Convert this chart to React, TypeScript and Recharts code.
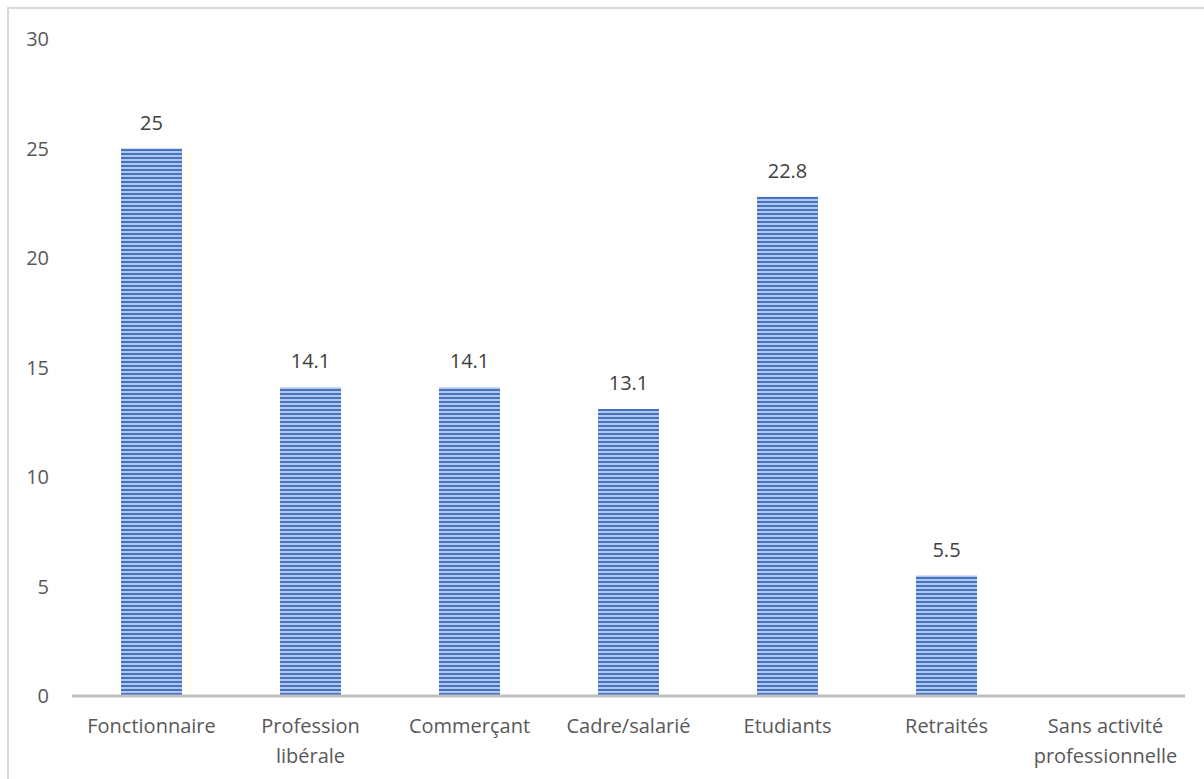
import { BarChart, Bar, XAxis, YAxis, LabelList } from "recharts";

const categories = [
  "Fonctionnaire",
  "Profession libérale",
  "Commerçant",
  "Cadre/salarié",
  "Etudiants",
  "Retraités",
  "Sans activité professionnelle",
];
const values: (number | null)[] = [25, 14.1, 14.1, 13.1, 22.8, 5.5, null];
const yTicks = [0, 5, 10, 15, 20, 25, 30];

// the two long labels wrap onto two lines like in the original
const wrapped: Record<string, string[]> = {
  "Profession libérale": ["Profession", "libérale"],
  "Sans activité professionnelle": ["Sans activité", "professionnelle"],
};

const data = categories.map((name, i) => ({ name, value: values[i] }));

const FONT = "'Open Sans', Lato, sans-serif";

function CategoryTick(props: any) {
  const { x, y, payload } = props;
  const lines = wrapped[payload.value] ?? [payload.value];
  return (
    <text x={x} y={y} textAnchor="middle" fill="#595959" fontSize={20} fontFamily={FONT}>
      {lines.map((l, i) => (
        <tspan key={i} x={x} dy={i === 0 ? 29 : 30}>
          {l}
        </tspan>
      ))}
    </text>
  );
}

export default function App() {
  return (
    <div
      style={{
        position: "absolute",
        left: 7,
        top: 7,
        width: 1197,
        height: 772,
        borderTop: "2px solid #d9d9d9",
        borderLeft: "2px solid #d9d9d9",
        overflow: "hidden",
        background: "#fff",
      }}
    >
      <BarChart
        width={1197}
        height={772}
        data={data}
        margin={{ top: 30, right: 21, bottom: 0, left: 0 }}
      >
        <defs>
          <pattern id="stripes" width="8" height="4" patternUnits="userSpaceOnUse">
            <rect width="8" height="4" fill="#b4c7e7" />
            <rect width="8" height="2" fill="#4472c4" />
          </pattern>
        </defs>
        <XAxis
          dataKey="name"
          interval={0}
          tickLine={false}
          axisLine={{ stroke: "#bfbfbf", strokeWidth: 3 }}
          tick={<CategoryTick />}
          height={85}
        />
        <YAxis
          domain={[0, 30]}
          ticks={yTicks}
          width={63}
          axisLine={false}
          tickLine={false}
          tickMargin={17}
          tick={{ fill: "#595959", fontSize: 20, fontFamily: FONT }}
        />
        <Bar dataKey="value" fill="url(#stripes)" barSize={61} isAnimationActive={false}>
          <LabelList
            dataKey="value"
            position="top"
            offset={19}
            fill="#404040"
            fontSize={20}
            fontFamily={FONT}
          />
        </Bar>
      </BarChart>
    </div>
  );
}
